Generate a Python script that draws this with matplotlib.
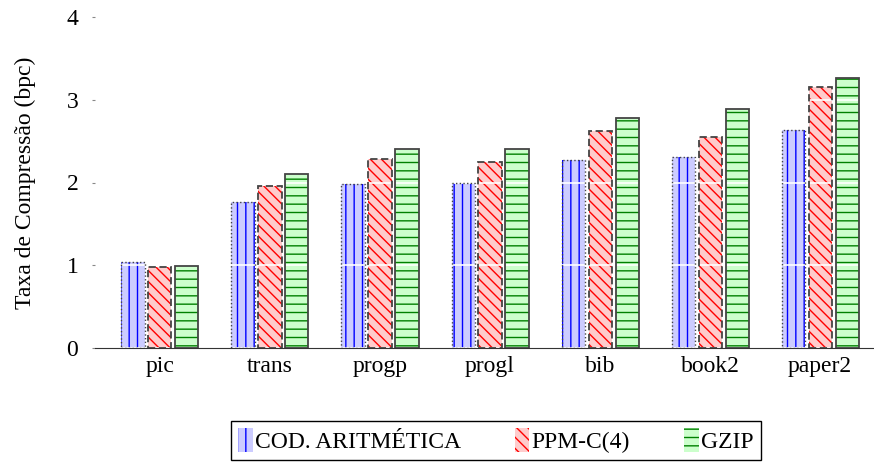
import numpy as np
import matplotlib.pyplot as plt

plt.rcParams['font.family'] = ['Liberation Serif', 'DejaVu Serif']
plt.rcParams['hatch.linewidth'] = 1.0

# compression rates in bits per character
files = ["pic", "trans", "progp", "progl", "bib", "book2", "paper2"]
aritmetica = [1.04, 1.76, 1.98, 1.99, 2.27, 2.31, 2.63]
ppm_c4 = [0.98, 1.96, 2.28, 2.25, 2.62, 2.55, 3.15]
gzip = [0.99, 2.10, 2.40, 2.40, 2.78, 2.89, 3.26]

series = [
    ("COD. ARITMÉTICA", aritmetica, "#ccccff", "#0000ff", "||", ":", 1.0),
    ("PPM-C(4)", ppm_c4, "#ffcccc", "#ff0000", "\\\\\\", (0, (4, 2)), 1.3),
    ("GZIP", gzip, "#ccffcc", "#008000", "--", "-", 1.3),
]

fig = plt.figure(figsize=(8.74, 4.62), dpi=100)
ax = fig.add_axes([95 / 874, 114 / 462, 778 / 874, 331 / 462])

x = np.arange(len(files))
width = 0.21
step = 0.245
handles = []
for i, (name, vals, face, hcol, hatch, ls, lw) in enumerate(series):
    pos = x + (i - 1) * step
    # fill + coloured hatch, then a separate outline on top
    ax.bar(pos, vals, width, color=face, edgecolor=hcol, hatch=hatch,
           linewidth=0, zorder=2)
    ax.bar(pos, vals, width, fill=False, edgecolor="#444444",
           linestyle=ls, linewidth=lw, zorder=3)
    handles.append(plt.Rectangle((0, 0), 1, 1, facecolor=face, edgecolor=hcol,
                                 hatch=hatch, linewidth=0))

ax.set_xlim(-0.59, 6.48)
ax.set_ylim(0, 4)
ax.set_yticks([0, 1, 2, 3, 4])
ax.set_xticks(x)
ax.set_xticklabels(files, fontsize=17)
ax.tick_params(axis='y', labelsize=17, length=2, color="#888888", pad=10)
ax.tick_params(axis='x', length=0, pad=6)
ax.yaxis.grid(True, color="white", linewidth=1.2, zorder=4)
ax.set_axisbelow(False)
for s in ["left", "top", "right"]:
    ax.spines[s].set_visible(False)
ax.spines["bottom"].set_color("#333333")
ax.spines["bottom"].set_zorder(5)
ax.set_ylabel("Taxa de Compressão (bpc)", fontsize=17, labelpad=22)

fig.legend(handles, [s[0] for s in series], loc="upper center",
           bbox_to_anchor=(496 / 874, 1 - 421 / 462), ncol=3, fontsize=17,
           frameon=True, fancybox=False, edgecolor="black", framealpha=1,
           handlelength=0.6, handleheight=1.2, handletextpad=0.1,
           columnspacing=2.3, borderpad=0.3, borderaxespad=0)

fig.savefig("out.png", dpi=100)
